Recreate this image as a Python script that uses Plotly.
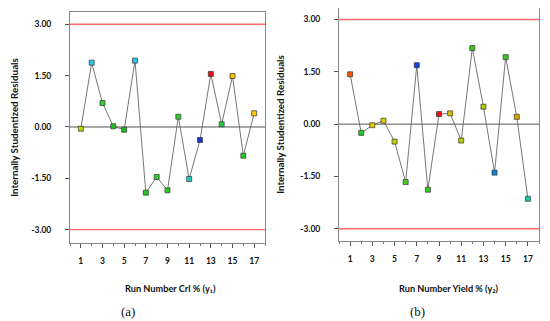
import plotly.graph_objects as go

runs = list(range(1, 18))
resid_crl = [-0.05, 1.88, 0.70, 0.02, -0.08, 1.94, -1.92, -1.46, -1.85, 0.30,
             -1.52, -0.38, 1.55, 0.08, 1.49, -0.84, 0.40]
resid_yield = [1.43, -0.25, -0.03, 0.10, -0.50, -1.66, 1.69, -1.88, 0.29, 0.31,
               -0.47, 2.18, 0.50, -1.39, 1.92, 0.21, -2.14]
colors_crl = ['#aadd00', '#22ccee', '#33cc33', '#22bb22', '#22bb22', '#22ccee', '#22cc22',
              '#33cc33', '#22cc22', '#33cc33', '#22ccbb', '#1a33cc', '#ee1111', '#22cc44',
              '#ffbb00', '#22cc22', '#ffcc00']
colors_yield = ['#ff5500', '#22cc22', '#ddcc00', '#ddcc00', '#cccc00', '#44cc22', '#1144ee',
                '#33cc22', '#ee1111', '#ddbb00', '#bbcc00', '#33cc11', '#aacc00', '#1188dd',
                '#33cc22', '#ddaa00', '#11ccaa']
y_ticks = [-3.0, -1.5, 0.0, 1.5, 3.0]
y_tick_text = ['-3.00', '-1.50', '0.00', '1.50', '3.00']
x_ticks = [1, 3, 5, 7, 9, 11, 13, 15, 17]
limit = 3.0

# page body has an 8px margin; figure is sized to fit inside the window
OFF = 8
W, H = 550 - OFF, 321 - OFF


def px(X):
    return min(1.0, max(0.0, (X - OFF) / W))


def py(Y):
    return min(1.0, max(0.0, 1 - (Y - OFF) / H))


FONT = 'Lato'
fig = go.Figure()

for i, (vals, cols) in enumerate([(resid_crl, colors_crl), (resid_yield, colors_yield)]):
    xa = 'x' if i == 0 else 'x2'
    ya = 'y' if i == 0 else 'y2'
    fig.add_trace(go.Scatter(
        x=runs, y=vals, mode='lines+markers', xaxis=xa, yaxis=ya,
        line=dict(color='#666666', width=0.9),
        marker=dict(symbol='square', size=5, color=cols,
                    line=dict(color='#333333', width=0.7)),
        showlegend=False, hoverinfo='skip'))
    xr = 'x domain' if i == 0 else 'x2 domain'
    yr = 'y' if i == 0 else 'y2'
    for v, c, w in [(limit, '#ff6666', 1.4), (-limit, '#ff6666', 1.4), (0, '#555555', 1.0)]:
        fig.add_shape(type='line', xref=xr, yref=yr, x0=0, x1=1, y0=v, y1=v,
                      line=dict(color=c, width=w), layer='below')

tick_font = dict(family=FONT, size=8.5, color='#111111', weight='bold')
common_x = dict(range=[0, 18], tickvals=x_ticks, ticks='outside', ticklen=4,
                tickcolor='#555555', showline=True, linecolor='#888888', mirror=True,
                showgrid=False, zeroline=False, tickfont=tick_font,
                minor=dict(dtick=1, ticks='outside', ticklen=2, tickcolor='#777777'),
                ticklabelstandoff=6)
common_y = dict(tickvals=y_ticks, ticktext=y_tick_text, ticks='outside', ticklen=4,
                tickcolor='#555555', showline=True, linecolor='#888888', mirror=True,
                showgrid=False, zeroline=False, tickfont=tick_font,
                ticklabelstandoff=12,
                title=dict(text='<b>Internally Studentized Residuals</b>',
                           font=dict(family=FONT, size=9.8, color='#111111'), standoff=13))

fig.update_layout(
    width=W, height=H, margin=dict(l=0, r=0, t=0, b=0),
    paper_bgcolor='white', plot_bgcolor='white',
    xaxis=dict(domain=[px(70), px(265)], anchor='y', **common_x),
    yaxis=dict(domain=[py(243), py(12)], anchor='x', range=[-3.39, 3.36], **common_y),
    xaxis2=dict(domain=[px(339), px(539)], anchor='y2', **common_x),
    yaxis2=dict(domain=[py(241), py(8)], anchor='x2', range=[-3.35, 3.33], **common_y),
)

ann = [
    (170, 288, '<b>Run Number Crl % (y\u2081)</b>', FONT, 9.2),
    (448, 288, '<b>Run Number Yield % (y\u2082)</b>', FONT, 9.2),
    (128, 311, '(a)', 'Liberation Serif', 13),
    (417, 311, '(b)', 'Liberation Serif', 13),
]
for x, y, t, f, s in ann:
    fig.add_annotation(x=px(x), y=py(y), xref='paper', yref='paper', text=t,
                       showarrow=False, xanchor='center', yanchor='middle',
                       font=dict(family=f, size=s, color='#111111'))

fig.write_html('out.html')
